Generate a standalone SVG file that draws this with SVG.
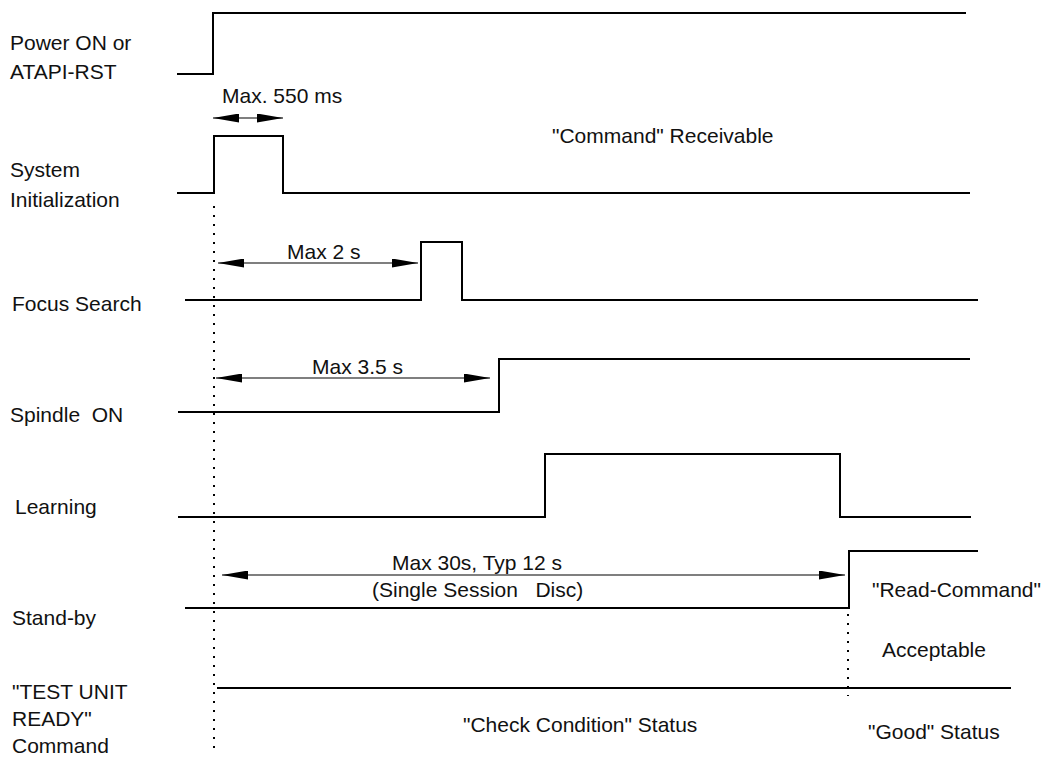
<svg xmlns="http://www.w3.org/2000/svg" width="1044" height="758" viewBox="0 0 1044 758">
<style>
.sig{fill:none;stroke:#000;stroke-width:2}
.dim{fill:none;stroke:#000;stroke-width:1.2;marker-start:url(#ah);marker-end:url(#ah)}
.dot{fill:none;stroke:#000;stroke-width:2;stroke-dasharray:2 7}
text{font-family:"Liberation Sans",Arial,sans-serif;font-size:21px;fill:#111}
</style>
<defs>
<marker id="ah" viewBox="0 0 26 9" refX="26" refY="4.5" markerWidth="26" markerHeight="9" markerUnits="userSpaceOnUse" orient="auto-start-reverse">
<path d="M0,0 L26,4.5 L0,9 z" fill="#000"/>
</marker>
</defs>
<rect width="1044" height="758" fill="#fff"/>
<g id="labels">
<text x="10" y="50">Power ON or</text>
<text x="10" y="79">ATAPI-RST</text>
<text x="10" y="177">System</text>
<text x="10" y="207">Initialization</text>
<text x="12" y="311">Focus Search</text>
<text x="10" y="422" xml:space="preserve">Spindle  ON</text>
<text x="15" y="514">Learning</text>
<text x="12" y="625">Stand-by</text>
<text x="12" y="699">"TEST UNIT</text>
<text x="12" y="726">READY"</text>
<text x="12" y="753">Command</text>
</g>
<g id="sig-power"><path class="sig" d="M177,74 H213 V13 H966"/></g>
<g id="sig-init"><path class="sig" d="M177,193 H214 V136 H283 V193 H970"/></g>
<g id="sig-focus"><path class="sig" d="M185,300 H421 V242 H462 V300 H978"/></g>
<g id="sig-spindle"><path class="sig" d="M178,412 H499 V359 H970"/></g>
<g id="sig-learning"><path class="sig" d="M178,517 H545 V454 H840 V517 H971"/></g>
<g id="sig-standby"><path class="sig" d="M185,608 H849 V551 H978"/></g>
<g id="sig-tur"><path class="sig" d="M217,688 H1011"/></g>
<g id="connectors">
<path class="dot" d="M214,206 V752"/>
<path class="dot" d="M848,614 V696"/>
<path class="dim" d="M213,118 H283"/>
<path class="dim" d="M218,263 H418"/>
<path class="dim" d="M216,378 H490"/>
<path class="dim" d="M222,575 H845"/>
</g>
<g id="annotations">
<text x="222" y="103">Max. 550 ms</text>
<text x="552" y="143">"Command" Receivable</text>
<text x="287" y="259">Max 2 s</text>
<text x="312" y="374">Max 3.5 s</text>
<text x="392" y="570">Max 30s, Typ 12 s</text>
<text x="372" y="597" xml:space="preserve">(Single Session   Disc)</text>
<text x="872" y="597">"Read-Command"</text>
<text x="882" y="657">Acceptable</text>
<text x="463" y="732">"Check Condition" Status</text>
<text x="868" y="739">"Good" Status</text>
</g>
</svg>
